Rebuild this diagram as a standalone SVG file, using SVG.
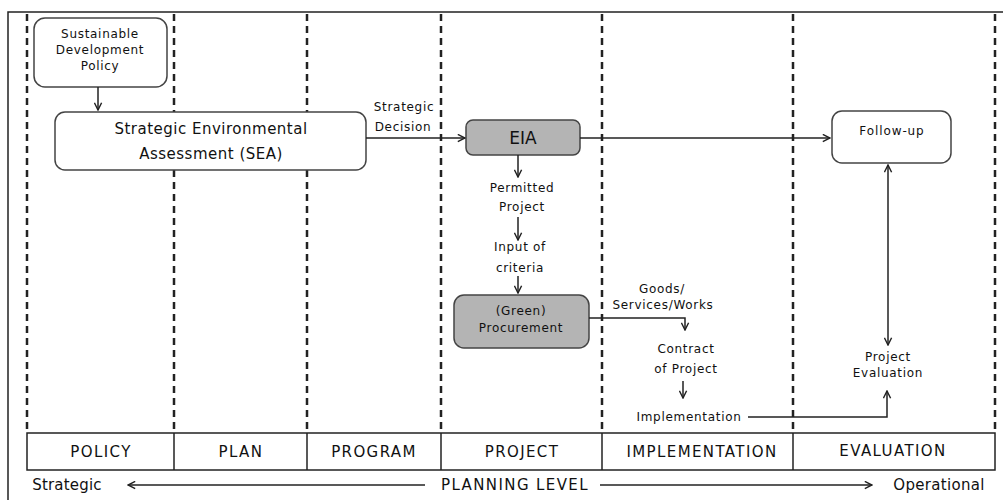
<svg xmlns="http://www.w3.org/2000/svg" width="1003" height="500" viewBox="0 0 1003 500">
<style>
text{font-family:"DejaVu Sans","Liberation Sans",sans-serif;fill:#111;text-anchor:middle}
.s{font-size:12px;letter-spacing:0.7px}
.m{font-size:15px;letter-spacing:0.5px}
.h{font-size:15px;letter-spacing:1.4px}
.box{fill:#fff;stroke:#444;stroke-width:1.5}
.g{fill:#b4b4b4;stroke:#444;stroke-width:1.5}
.dash{stroke:#222;stroke-width:2.5;stroke-dasharray:7,5}
.ln{stroke:#222;stroke-width:1.5;fill:none}
</style>
<defs>
<marker id="a" viewBox="0 0 10 10" refX="9" refY="5" markerWidth="9" markerHeight="9" markerUnits="userSpaceOnUse" orient="auto-start-reverse">
<path d="M1,1 L9,5 L1,9" fill="none" stroke="#222" stroke-width="1.6"/>
</marker>
</defs>
<rect x="0" y="0" width="1003" height="500" fill="#fff"/>
<rect x="8" y="12" width="1000" height="492" fill="none" stroke="#222" stroke-width="1.5"/>
<g id="lanes">
<line class="dash" x1="27" y1="14" x2="27" y2="433"/>
<line class="dash" x1="174" y1="14" x2="174" y2="433"/>
<line class="dash" x1="307" y1="14" x2="307" y2="433"/>
<line class="dash" x1="441" y1="14" x2="441" y2="433"/>
<line class="dash" x1="602" y1="14" x2="602" y2="433"/>
<line class="dash" x1="793" y1="14" x2="793" y2="433"/>
<line class="dash" x1="995" y1="14" x2="995" y2="433"/>
</g>
<g id="levels">
<rect x="27" y="433" width="968" height="37" fill="#fff" stroke="#222" stroke-width="1.5"/>
<line class="ln" x1="174" y1="433" x2="174" y2="470"/>
<line class="ln" x1="307" y1="433" x2="307" y2="470"/>
<line class="ln" x1="441" y1="433" x2="441" y2="470"/>
<line class="ln" x1="602" y1="433" x2="602" y2="470"/>
<line class="ln" x1="793" y1="433" x2="793" y2="470"/>
<text class="h" x="101" y="457">POLICY</text>
<text class="h" x="241" y="457">PLAN</text>
<text class="h" x="374" y="457">PROGRAM</text>
<text class="h" x="522" y="457">PROJECT</text>
<text class="h" x="702" y="457">IMPLEMENTATION</text>
<text class="h" x="893" y="456">EVALUATION</text>
<text class="m" x="67" y="490" style="letter-spacing:0.2px">Strategic</text>
<text class="h" x="515" y="490">PLANNING LEVEL</text>
<text class="m" x="939" y="490" style="letter-spacing:0.3px">Operational</text>
</g>
<g id="sdp">
<rect class="box" x="34" y="18" width="133" height="69" rx="11"/>
<text class="s" x="100" y="38">Sustainable</text>
<text class="s" x="100" y="54">Development</text>
<text class="s" x="100" y="70">Policy</text>
</g>
<g id="sea">
<rect class="box" x="55" y="112" width="311" height="58" rx="10"/>
<text class="m" x="211" y="134">Strategic Environmental</text>
<text class="m" x="211" y="159">Assessment (SEA)</text>
</g>
<g id="eia">
<rect class="g" x="466" y="120" width="114" height="35" rx="7"/>
<text x="523" y="144" style="font-size:17px">EIA</text>
</g>
<g id="followup">
<rect class="box" x="832" y="111" width="119" height="52" rx="10"/>
<text class="s" x="892" y="135" style="letter-spacing:0.9px">Follow-up</text>
</g>
<g id="procurement">
<rect class="g" x="454" y="295" width="135" height="53" rx="10"/>
<text class="s" x="521" y="315">(Green)</text>
<text class="s" x="521" y="332">Procurement</text>
</g>
<g id="labels">
<text class="s" x="404" y="111">Strategic</text>
<text class="s" x="403" y="131">Decision</text>
<text class="s" x="522" y="192">Permitted</text>
<text class="s" x="522" y="211">Project</text>
<text class="s" x="520" y="251">Input of</text>
<text class="s" x="520" y="272">criteria</text>
<text class="s" x="662" y="293">Goods/</text>
<text class="s" x="663" y="309">Services/Works</text>
<text class="s" x="686" y="353">Contract</text>
<text class="s" x="686" y="373">of Project</text>
<text class="s" x="689" y="421">Implementation</text>
<text class="s" x="888" y="361">Project</text>
<text class="s" x="888" y="377">Evaluation</text>
</g>
<g id="connectors">
<line class="ln" x1="98" y1="87" x2="98" y2="110" marker-end="url(#a)"/>
<line class="ln" x1="366" y1="138" x2="465" y2="138" marker-end="url(#a)"/>
<line class="ln" x1="580" y1="138" x2="830" y2="138" marker-end="url(#a)"/>
<line class="ln" x1="518" y1="155" x2="518" y2="177" marker-end="url(#a)"/>
<line class="ln" x1="518" y1="217" x2="518" y2="240" marker-end="url(#a)"/>
<line class="ln" x1="518" y1="276" x2="518" y2="293" marker-end="url(#a)"/>
<polyline class="ln" points="589,318 685,318 685,330" marker-end="url(#a)"/>
<line class="ln" x1="683" y1="381" x2="683" y2="398" marker-end="url(#a)"/>
<polyline class="ln" points="748,417 887,417 887,391" marker-end="url(#a)"/>
<line class="ln" x1="888" y1="165" x2="888" y2="345" marker-start="url(#a)" marker-end="url(#a)"/>
<line class="ln" x1="425" y1="485" x2="128" y2="485" marker-end="url(#a)"/>
<line class="ln" x1="600" y1="485" x2="872" y2="485" marker-end="url(#a)"/>
</g>
</svg>
